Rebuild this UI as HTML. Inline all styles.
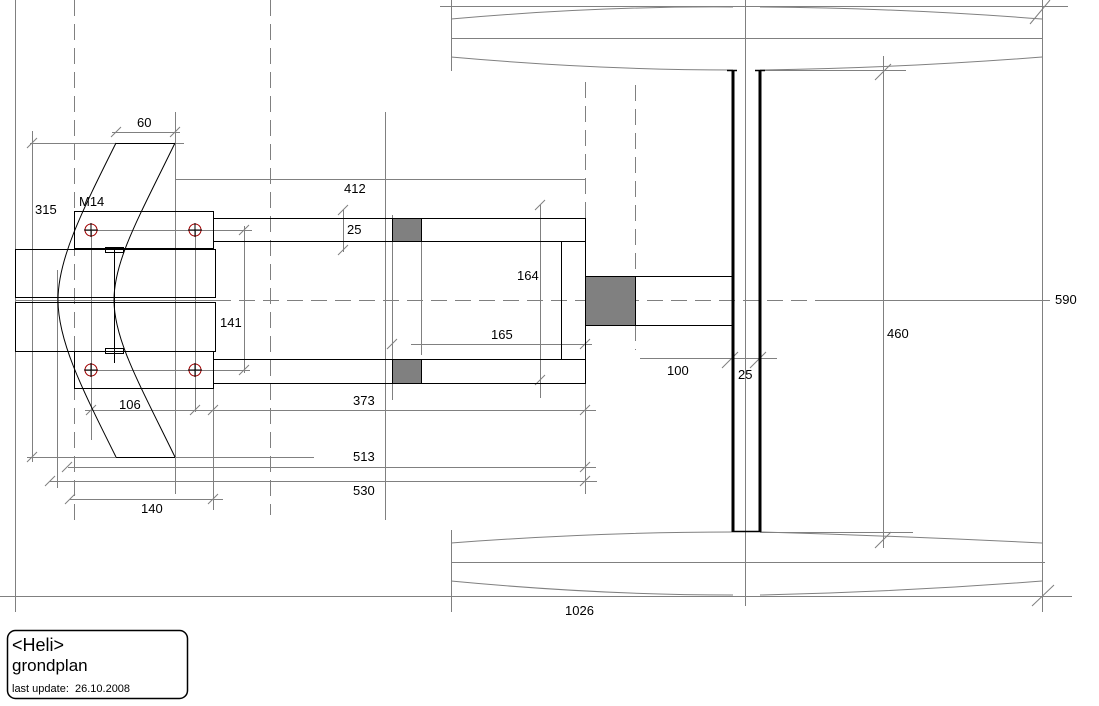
<!DOCTYPE html>
<html><head><meta charset="utf-8"><style>
html,body{margin:0;padding:0;background:#fff;}
svg{display:block;font-family:"Liberation Sans",sans-serif;}
</style></head><body>
<svg width="1099" height="706" viewBox="0 0 1099 706" xmlns="http://www.w3.org/2000/svg">
<g stroke="#808080" stroke-width="1" fill="none">
<line x1="15.5" y1="0" x2="15.5" y2="612"/>
<line x1="451.5" y1="0" x2="451.5" y2="71"/>
<line x1="451.5" y1="530" x2="451.5" y2="612"/>
<line x1="1042.5" y1="0" x2="1042.5" y2="612"/>
<line x1="745.5" y1="0" x2="745.5" y2="606"/>
<line x1="883.5" y1="56" x2="883.5" y2="548"/>
<line x1="385.5" y1="112" x2="385.5" y2="520"/>
<line x1="175.5" y1="112" x2="175.5" y2="494"/>
<line x1="213.5" y1="389" x2="213.5" y2="510"/>
<line x1="195.5" y1="230" x2="195.5" y2="412"/>
<line x1="91.5" y1="230" x2="91.5" y2="440"/>
<line x1="57.5" y1="270" x2="57.5" y2="488"/>
<line x1="32.5" y1="131" x2="32.5" y2="462"/>
<line x1="585.5" y1="383" x2="585.5" y2="494"/>
<line x1="540.5" y1="205" x2="540.5" y2="398"/>
<line x1="392.5" y1="215" x2="392.5" y2="400"/>
<line x1="421.5" y1="241" x2="421.5" y2="355"/>
<line x1="343.5" y1="210" x2="343.5" y2="252"/>
<line x1="244.5" y1="226" x2="244.5" y2="373"/>
<g stroke-dasharray="16,8">
<line x1="74.5" y1="0" x2="74.5" y2="520"/>
<line x1="270.5" y1="0" x2="270.5" y2="515"/>
<line x1="585.5" y1="82" x2="585.5" y2="218"/>
<line x1="635.5" y1="85" x2="635.5" y2="350"/>
</g>
<line x1="215" y1="300.5" x2="830" y2="300.5" stroke-dasharray="16,8"/>
<line x1="15" y1="300.5" x2="215" y2="300.5"/>
<line x1="830" y1="300.5" x2="1050" y2="300.5"/>
<line x1="440" y1="6.5" x2="1068" y2="6.5"/>
<path d="M451,19 Q598,6 733,7 M760,7 Q900,8 1042,19"/>
<line x1="451" y1="38.5" x2="1043" y2="38.5"/>
<path d="M451,57 Q598,70 733,70 M760,70 Q900,68 1042,57"/>
<line x1="760" y1="70.5" x2="906" y2="70.5"/>
<line x1="1030" y1="24" x2="1050" y2="0"/>
<path d="M451,543 Q598,532 733,532 M760,532 Q900,536 1042,543"/>
<line x1="760" y1="532.5" x2="913" y2="532.5"/>
<line x1="451" y1="562.5" x2="1045" y2="562.5"/>
<path d="M451,581 Q598,595 733,595 M760,595 Q900,592 1042,581"/>
<line x1="0" y1="596.5" x2="1072" y2="596.5"/>
<line x1="1032" y1="606" x2="1054" y2="585"/>
<line x1="112" y1="132.5" x2="180" y2="132.5"/>
<line x1="30" y1="143.5" x2="184" y2="143.5"/>
<line x1="175" y1="179.5" x2="585" y2="179.5"/>
<line x1="85" y1="230.5" x2="252" y2="230.5"/>
<line x1="85" y1="370.5" x2="250" y2="370.5"/>
<line x1="411" y1="344.5" x2="592" y2="344.5"/>
<line x1="640" y1="358.5" x2="777" y2="358.5"/>
<line x1="85" y1="410.5" x2="596" y2="410.5"/>
<line x1="27" y1="457.5" x2="314" y2="457.5"/>
<line x1="68" y1="467.5" x2="596" y2="467.5"/>
<line x1="50" y1="481.5" x2="597" y2="481.5"/>
<line x1="70" y1="499.5" x2="223" y2="499.5"/>
<path d="M111,137 l10,-10 M170,137 l10,-10 M27,148 l10,-10 M27,462 l10,-10 M338,215 l10,-10 M338,255 l10,-10 M239,235 l10,-10 M239,375 l10,-10 M535,210 l10,-10 M535,385 l10,-10 M387,349 l10,-10 M580,349 l10,-10 M86,415 l10,-10 M190,415 l10,-10 M208,415 l10,-10 M580,415 l10,-10 M62,472 l10,-10 M580,472 l10,-10 M45,486 l10,-10 M580,486 l10,-10 M65,504 l10,-10 M208,504 l10,-10 M722,368 l16,-16 M750,368 l16,-16 M875,548 l16,-16 M875,80 l16,-16"/>
</g>
<g stroke="#000" stroke-width="1" fill="none">
<rect x="15.5" y="249.5" width="200" height="48"/>
<rect x="15.5" y="302.5" width="200" height="49"/>
<rect x="74.5" y="211.5" width="139" height="37"/>
<rect x="74.5" y="351.5" width="139" height="37"/>
<rect x="213.5" y="218.5" width="372" height="23"/>
<rect x="213.5" y="359.5" width="372" height="24"/>
<line x1="585.5" y1="241" x2="585.5" y2="359"/>
<line x1="561.5" y1="241" x2="561.5" y2="359"/>
<rect x="635.5" y="276.5" width="98" height="49"/>
<rect x="105.5" y="247.5" width="18" height="5"/>
<rect x="105.5" y="348.5" width="18" height="5"/>
<line x1="114.5" y1="250" x2="114.5" y2="363"/>
<path d="M116,143.5 H175 M116,457.5 H175"/>
<path d="M116,143 C80,215 58,260 58,300 C58,340 80,385 116,457"/>
<path d="M175,143 C140,215 114,260 114,300 C114,340 140,385 175,457"/>
</g>
<g fill="#808080" stroke="#000" stroke-width="1">
<rect x="392.5" y="218.5" width="29" height="23"/>
<rect x="392.5" y="359.5" width="29" height="24"/>
<rect x="585.5" y="276.5" width="50" height="49"/>
</g>
<g stroke="#000" stroke-width="3">
<line x1="733" y1="70" x2="733" y2="532"/>
<line x1="760" y1="70" x2="760" y2="532"/>
</g>
<g stroke="#000" stroke-width="1.5">
<line x1="727" y1="70.5" x2="737" y2="70.5"/>
<line x1="755" y1="70.5" x2="765" y2="70.5"/>
<line x1="733" y1="531.5" x2="760" y2="531.5"/>
</g>
<g stroke="#a00000" fill="none" stroke-width="1">
<circle cx="91" cy="230" r="6"/><circle cx="195" cy="230" r="6"/>
<circle cx="91" cy="370" r="6"/><circle cx="195" cy="370" r="6"/>
</g>
<g stroke="#000" stroke-width="1">
<path d="M91,223 v14 M84,230 h14 M195,223 v14 M188,230 h14 M91,363 v14 M84,370 h14 M195,363 v14 M188,370 h14"/>
</g>
<g font-size="13" fill="#000">
<text x="137" y="127">60</text>
<text x="35" y="214">315</text>
<text x="79" y="206">M14</text>
<text x="344" y="193">412</text>
<text x="347" y="234">25</text>
<text x="220" y="327">141</text>
<text x="517" y="280">164</text>
<text x="491" y="339">165</text>
<text x="667" y="375">100</text>
<text x="738" y="379">25</text>
<text x="887" y="338">460</text>
<text x="1055" y="304">590</text>
<text x="119" y="409">106</text>
<text x="353" y="405">373</text>
<text x="353" y="461">513</text>
<text x="353" y="495">530</text>
<text x="141" y="513">140</text>
<text x="565" y="615">1026</text>
</g>
<rect x="7.5" y="630.5" width="180" height="68" rx="8" fill="none" stroke="#000" stroke-width="1.5"/>
<text x="12" y="651" font-size="18">&lt;Heli&gt;</text>
<text x="12" y="671" font-size="17">grondplan</text>
<text x="12" y="692" font-size="11" xml:space="preserve">last update:  26.10.2008</text>
</svg>
</body></html>
